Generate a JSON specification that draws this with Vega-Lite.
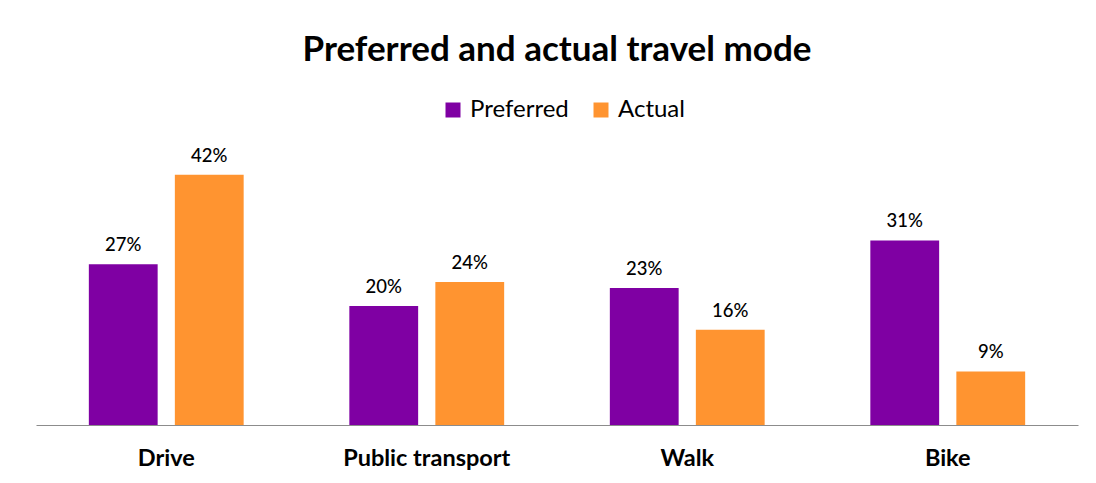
{
  "$schema": "https://vega.github.io/schema/vega-lite/v6.json",
  "autosize": {"type": "none"},
  "width": 1042,
  "height": 268,
  "padding": {"left": 36, "top": 157, "right": 18, "bottom": 58},
  "background": "white",
  "title": {
    "text": "Preferred and actual travel mode",
    "font": "Lato",
    "fontSize": 35,
    "fontWeight": "bold",
    "color": "#000000",
    "anchor": "middle",
    "frame": "group",
    "orient": "top",
    "offset": 30
  },
  "data": {
    "values": [
      {"mode": "Drive", "type": "Preferred", "value": 0.27},
      {"mode": "Drive", "type": "Actual", "value": 0.42},
      {"mode": "Public transport", "type": "Preferred", "value": 0.20},
      {"mode": "Public transport", "type": "Actual", "value": 0.24},
      {"mode": "Walk", "type": "Preferred", "value": 0.23},
      {"mode": "Walk", "type": "Actual", "value": 0.16},
      {"mode": "Bike", "type": "Preferred", "value": 0.31},
      {"mode": "Bike", "type": "Actual", "value": 0.09}
    ]
  },
  "encoding": {
    "x": {
      "field": "mode",
      "type": "nominal",
      "sort": ["Drive", "Public transport", "Walk", "Bike"],
      "scale": {"paddingInner": 0.3, "paddingOuter": 0.15},
      "axis": {
        "title": null,
        "labelAngle": 0,
        "labelFont": "Lato",
        "labelFontSize": 23.5,
        "labelFontWeight": "bold",
        "labelColor": "#000000",
        "labelPadding": 21,
        "ticks": false,
        "domainColor": "#8c8c8c",
        "domainWidth": 1.2
      }
    },
    "xOffset": {
      "field": "type",
      "type": "nominal",
      "sort": ["Preferred", "Actual"],
      "scale": {"paddingInner": 0.2, "paddingOuter": 0.16}
    },
    "y": {
      "field": "value",
      "type": "quantitative",
      "scale": {"domain": [0, 0.45], "nice": false},
      "axis": null
    }
  },
  "layer": [
    {
      "mark": {"type": "bar"},
      "encoding": {
        "color": {
          "field": "type",
          "type": "nominal",
          "sort": ["Preferred", "Actual"],
          "scale": {"domain": ["Preferred", "Actual"], "range": ["#7f00a3", "#ff9430"]},
          "legend": {
            "title": null,
            "orient": "none",
            "direction": "horizontal",
            "legendX": 405,
            "legendY": -59,
            "symbolType": "square",
            "symbolSize": 225,
            "symbolStrokeWidth": 0,
            "labelFont": "Lato",
            "labelFontSize": 24,
            "labelColor": "#000000",
            "columnPadding": 20,
            "labelOffset": 5
          }
        }
      }
    },
    {
      "mark": {"type": "text", "baseline": "bottom", "dy": -9, "font": "Lato", "fontSize": 18.5, "fontWeight": 500, "color": "#000000"},
      "encoding": {
        "text": {"field": "value", "type": "quantitative", "format": ".0%"}
      }
    }
  ],
  "config": {"view": {"stroke": null}}
}
